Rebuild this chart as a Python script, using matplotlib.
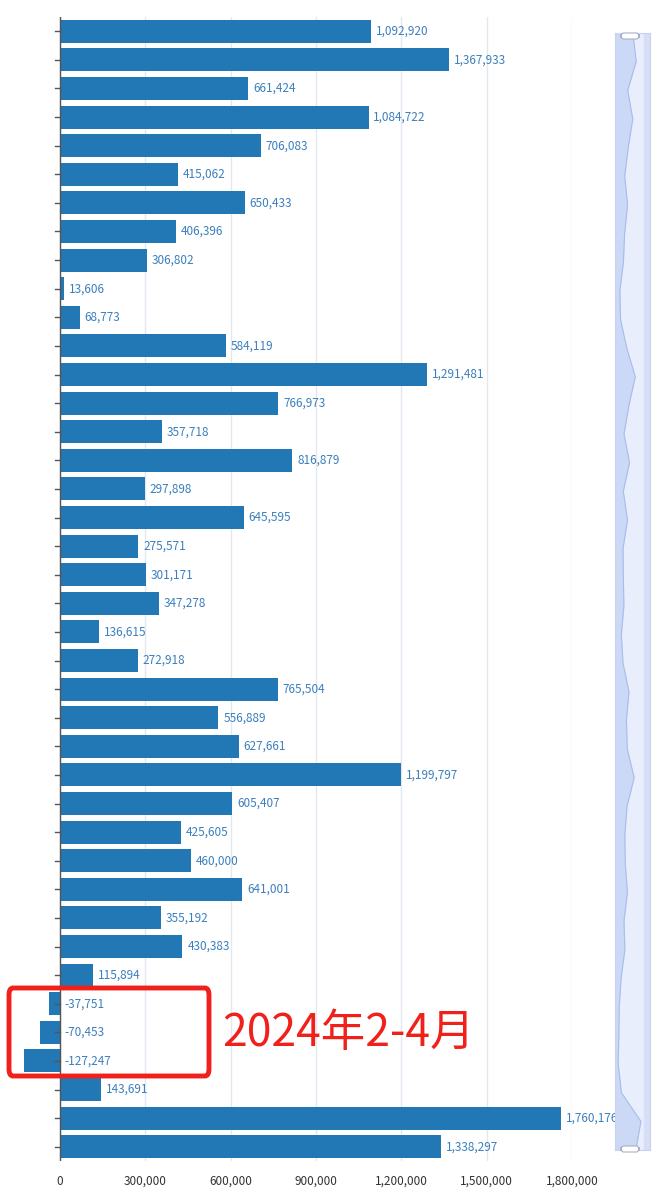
import matplotlib
matplotlib.use('Agg')
import matplotlib.pyplot as plt
from matplotlib.patches import FancyBboxPatch
from matplotlib.ticker import FuncFormatter

values = [1092920, 1367933, 661424, 1084722, 706083, 415062, 650433, 406396,
          306802, 13606, 68773, 584119, 1291481, 766973, 357718, 816879,
          297898, 645595, 275571, 301171, 347278, 136615, 272918, 765504,
          556889, 627661, 1199797, 605407, 425605, 460000, 641001, 355192,
          430383, 115894, -37751, -70453, -127247, 143691, 1760176, 1338297]
x_ticks = [0, 300000, 600000, 900000, 1200000, 1500000, 1800000]
note = '2024年2-4月'

W, H = 660, 1194
BAR = '#2277b5'
LABEL = '#3b7fbd'

plt.rcParams['font.family'] = ['Noto Sans CJK SC', 'DejaVu Sans']


def main():
  fig = plt.figure(figsize=(W / 100, H / 100), dpi=100)

  # main chart
  ax = fig.add_axes([20 / W, (H - 1161) / H, 552 / W, 1144 / H])
  n = len(values)
  pos = list(range(n))
  ax.barh(pos, values, height=0.8, color=BAR, zorder=3)
  for y, v in zip(pos, values):
    ax.annotate(f'{v:,}', xy=(max(v, 0), y), xytext=(3.5, 0),
                textcoords='offset points', va='center', ha='left',
                fontsize=8.5, color=LABEL, zorder=4, annotation_clip=False)

  ax.set_xlim(-140600, 1800000)
  ax.set_ylim(n - 0.5, -0.5)
  ax.set_xticks(x_ticks)
  ax.xaxis.set_major_formatter(FuncFormatter(lambda v, p: f'{int(v):,}'))
  ax.tick_params(axis='x', length=0, labelsize=8.5, labelcolor='#333333', pad=10)
  ax.grid(axis='x', color='#e3e7f0', linewidth=1, zorder=0)
  for s in ['top', 'right', 'bottom', 'left']:
    ax.spines[s].set_visible(False)
  ax.axvline(0, color='#555555', linewidth=1, zorder=5)
  ax.set_yticks(pos)
  ax.set_yticklabels([])
  ax.yaxis.set_ticks_position('none')
  # small ticks on the zero line
  for y in pos:
    ax.plot([-17000, 0], [y, y], color='#555555', linewidth=1, zorder=5,
            clip_on=False)

  # vertical data-zoom slider
  sx = fig.add_axes([615 / W, (H - 1150) / H, 35 / W, 1117 / H])
  sx.set_facecolor('#e9eefc')
  lo = min(values)
  span = 2.64e6
  sx.fill_betweenx(pos, lo - 0.1 * span, values, color='#cbd8f6', linewidth=0)
  sx.plot(values, pos, color='#a9bdeb', linewidth=0.8)
  sx.axvspan(lo + span * 0.82, lo + span, color='#d6dff5', zorder=0)
  sx.set_xlim(lo - 0.1 * span, lo + span)
  sx.set_ylim(n - 1, 0)
  sx.set_xticks([])
  sx.set_yticks([])
  for s in sx.spines.values():
    s.set_color('#c9d3ee')
    s.set_linewidth(0.8)

  for yc in [36, 1149]:
    fig.patches.append(FancyBboxPatch((621 / W, (H - yc - 3) / H), 18 / W, 6 / H,
                                      boxstyle='round,pad=0,rounding_size=0.004',
                                      transform=fig.transFigure,
                                      facecolor='white', edgecolor='#a7b0c4',
                                      linewidth=0.8, zorder=10))

  # red highlight box and note
  fig.patches.append(FancyBboxPatch((9 / W, (H - 1076) / H), 200 / W, 88 / H,
                                    boxstyle='round,pad=0,rounding_size=0.006',
                                    transform=fig.transFigure, fill=False,
                                    edgecolor='#f0201a', linewidth=3.5,
                                    zorder=10))
  fig.text(222 / W, (H - 1033) / H, note, color='#f0201a', fontsize=32,
           va='center', ha='left')

  fig.savefig('out.png', dpi=100)


if __name__ == "__main__":
  main()
